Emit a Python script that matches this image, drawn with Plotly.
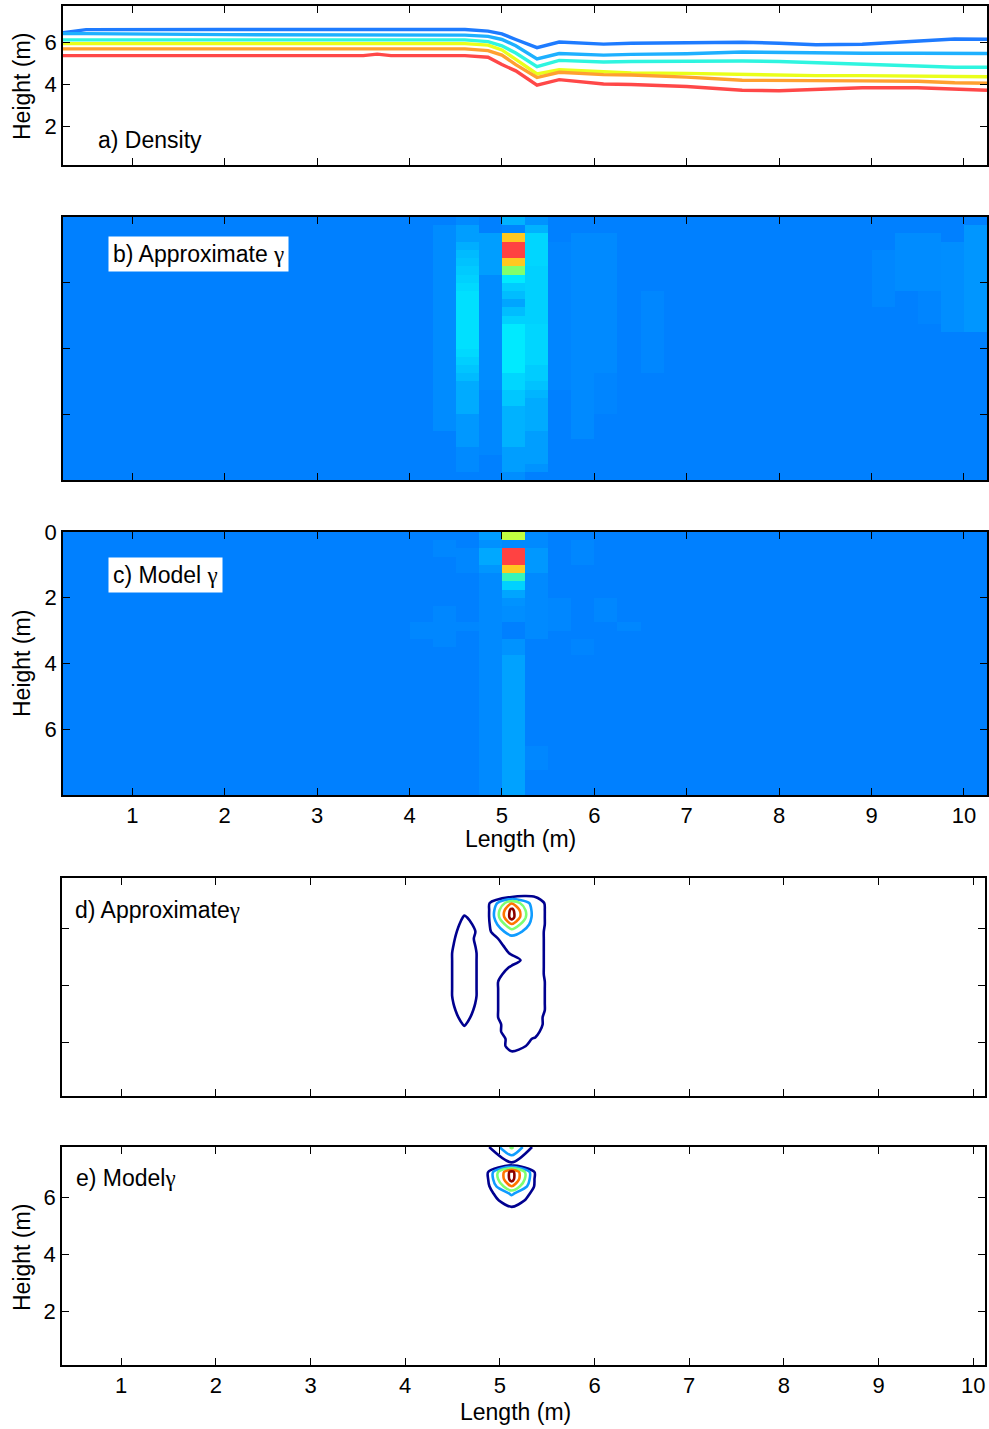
import plotly.graph_objects as go

# ---------------- data ----------------
# panel a: density isolines (height in m) sampled along length
dens_x = [0.25, 0.5, 2.0, 3.5, 3.65, 3.8, 4.6, 4.85, 5.0, 5.15, 5.38, 5.62,
          6.1, 6.4, 7.0, 7.6, 8.0, 8.4, 8.9, 9.5, 9.9, 10.25]
dens_blue = [6.47, 6.62, 6.63, 6.63, 6.63, 6.63, 6.63, 6.55, 6.42, 6.15, 5.76, 6.03,
             5.93, 5.97, 5.98, 6.02, 5.97, 5.90, 5.92, 6.08, 6.17, 6.16]
dens_lightblue = [6.43, 6.43, 6.38, 6.36, 6.36, 6.36, 6.36, 6.30, 6.15, 5.85, 5.22, 5.48,
                  5.40, 5.44, 5.47, 5.55, 5.53, 5.50, 5.49, 5.49, 5.48, 5.48]
dens_cyan = [6.13, 6.13, 6.13, 6.13, 6.13, 6.13, 6.13, 6.05, 5.85, 5.50, 4.85, 5.15,
             5.07, 5.10, 5.13, 5.12, 5.10, 5.05, 4.98, 4.88, 4.82, 4.82]
dens_yellow = [5.95, 5.95, 5.95, 5.95, 5.95, 5.95, 5.95, 5.88, 5.65, 5.20, 4.50, 4.70,
               4.60, 4.55, 4.53, 4.48, 4.45, 4.42, 4.42, 4.40, 4.38, 4.37]
dens_orange = [5.70, 5.70, 5.70, 5.70, 5.70, 5.70, 5.70, 5.62, 5.40, 4.95, 4.33, 4.58,
               4.47, 4.45, 4.35, 4.20, 4.18, 4.18, 4.17, 4.15, 4.08, 4.06]
dens_red = [5.38, 5.38, 5.38, 5.38, 5.45, 5.38, 5.38, 5.30, 4.95, 4.65, 3.97, 4.23,
            4.02, 4.00, 3.90, 3.72, 3.70, 3.78, 3.84, 3.84, 3.77, 3.72]
dens_series = [dens_blue, dens_lightblue, dens_cyan, dens_yellow, dens_orange, dens_red]
dens_colors = ["#1E7BFF", "#1EB0FF", "#2EF5E0", "#EAFF1A", "#FFA030", "#FF4848"]

# gamma grids: 40 columns of 0.25 m (length), 32 rows of 0.25 m (depth)
n_cols, n_rows = 40, 32
x_centers = [0.375 + 0.25 * i for i in range(n_cols)]
depth_centers = [0.125 + 0.25 * k for k in range(n_rows)]

# column index -> list of (first_row, last_row, value)
approx_gamma_cols = {
    16: [(1, 25, 0.025)],
    17: [(0, 0, 0.02), (1, 2, 0.06), (3, 3, 0.085), (4, 4, 0.105), (5, 5, 0.12),
         (6, 6, 0.135), (7, 7, 0.15), (8, 8, 0.165), (9, 15, 0.18), (16, 16, 0.165),
         (17, 17, 0.145), (18, 18, 0.125), (19, 19, 0.105), (20, 23, 0.08),
         (24, 27, 0.05), (28, 30, 0.02)],
    18: [(2, 6, 0.06), (7, 20, 0.025), (21, 28, 0.015)],
    19: [(0, 0, 0.09), (1, 1, 0.01), (2, 2, 0.62), (3, 3, 0.88), (4, 4, 0.90),
         (5, 5, 0.62), (6, 6, 0.38), (7, 7, 0.20), (8, 8, 0.14), (9, 9, 0.11),
         (10, 10, 0.07), (11, 11, 0.11), (12, 12, 0.15), (13, 18, 0.20),
         (19, 20, 0.16), (21, 22, 0.13), (23, 27, 0.09), (28, 30, 0.06), (31, 31, 0.03)],
    20: [(0, 0, 0.04), (1, 1, 0.09), (2, 5, 0.16), (6, 12, 0.15), (13, 17, 0.16),
         (18, 19, 0.14), (20, 20, 0.12), (21, 21, 0.095), (22, 25, 0.08),
         (26, 29, 0.06), (30, 30, 0.04)],
    21: [(3, 20, 0.01)],
    22: [(2, 26, 0.02)],
    23: [(2, 18, 0.02), (19, 23, 0.01)],
    25: [(9, 18, 0.015)],
    35: [(4, 10, 0.015)],
    36: [(2, 8, 0.025)],
    37: [(2, 8, 0.025), (9, 12, 0.01)],
    38: [(3, 13, 0.03)],
    39: [(1, 13, 0.045)],
}
model_gamma_cols = {
    15: [(11, 12, 0.015)],
    16: [(1, 2, 0.015), (9, 13, 0.015)],
    17: [(2, 4, 0.015), (11, 11, 0.015)],
    18: [(0, 0, 0.06), (1, 1, 0.035), (2, 3, 0.075), (4, 4, 0.045), (5, 31, 0.02)],
    19: [(0, 0, 0.45), (1, 1, 0.02), (2, 3, 0.88), (4, 4, 0.62), (5, 5, 0.28),
         (6, 6, 0.15), (7, 7, 0.07), (8, 8, 0.04), (9, 10, 0.03), (11, 12, 0.0),
         (13, 14, 0.04), (15, 31, 0.065)],
    20: [(0, 1, 0.02), (2, 4, 0.05), (5, 12, 0.02), (26, 28, 0.015)],
    21: [(8, 11, 0.015)],
    22: [(1, 3, 0.015), (13, 14, 0.01)],
    23: [(8, 10, 0.015)],
    24: [(11, 11, 0.015)],
}
approx_levels = [0.10, 0.28, 0.46, 0.64, 0.82]
model_levels = [0.08, 0.25, 0.42, 0.62, 0.80]
level_colors = ["#00008F", "#109CFF", "#7DFF72", "#FF7400", "#8B0000"]

x_ticks = list(range(1, 11))


def build_grid(cols):
    z = [[0.0] * n_cols for _ in range(n_rows)]
    for c, segs in cols.items():
        for r0, r1, v in segs:
            for r in range(r0, r1 + 1):
                z[r][c] = v
    return z


approx_z = build_grid(approx_gamma_cols)
model_z = build_grid(model_gamma_cols)

# heights for contour panels (surface row drawn at top of profile)
cont_heights = [7.5 - d for d in depth_centers]
cont_heights[0] = 7.75
cont_h_asc = cont_heights[::-1]

heat_scale = [[0.0, "#0080FF"], [0.05, "#0098FF"], [0.1, "#00B8FF"], [0.2, "#00EAFF"],
              [0.35, "#66FF80"], [0.5, "#EEFF20"], [0.62, "#FFC820"], [0.75, "#FF7030"],
              [0.85, "#FF4444"], [1.0, "#FF3A3A"]]

# ---------------- figure ----------------
W, H = 989, 1429
FONT = "Arial, Liberation Sans, sans-serif"
FS = 23
TFS = 22


def dx(a, b):
    return [a / W, b / W]


def dy(top, bottom):
    return [1 - bottom / H, 1 - top / H]


fig = go.Figure()

for ys, col in zip(dens_series, dens_colors):
    fig.add_trace(go.Scatter(x=dens_x, y=ys, mode="lines", line=dict(color=col, width=3.4),
                             xaxis="x", yaxis="y", showlegend=False, hoverinfo="skip"))

fig.add_trace(go.Heatmap(x=x_centers, y=depth_centers, z=approx_z, colorscale=heat_scale,
                         zmin=0, zmax=1, showscale=False, xaxis="x2", yaxis="y2"))
fig.add_trace(go.Heatmap(x=x_centers, y=depth_centers, z=model_z, colorscale=heat_scale,
                         zmin=0, zmax=1, showscale=False, xaxis="x3", yaxis="y3"))


def add_contours(z, levels, xa, ya):
    z_asc = z[::-1]
    for lev, col in zip(levels, level_colors):
        fig.add_trace(go.Contour(
            x=x_centers, y=cont_h_asc, z=z_asc,
            contours=dict(start=lev, end=lev, size=1, coloring="lines"),
            colorscale=[[0, col], [1, col]], showscale=False,
            line=dict(width=2.6, smoothing=0.8), xaxis=xa, yaxis=ya, hoverinfo="skip"))


add_contours(approx_z, approx_levels, "x4", "y4")
add_contours(model_z, model_levels, "x5", "y5")

axis_common = dict(showline=True, linecolor="black", linewidth=1.5, mirror="ticks",
                   ticks="inside", ticklen=7, tickcolor="black", tickwidth=1,
                   showgrid=False, zeroline=False, automargin=False,
                   tickfont=dict(family=FONT, size=TFS, color="black"))

layout = dict(
    template="none",
    width=W, height=H, autosize=False, margin=dict(l=0, r=0, t=0, b=0, pad=0),
    paper_bgcolor="white", plot_bgcolor="white", showlegend=False,
    font=dict(family=FONT, size=FS, color="black"),
)
# panel a
layout["xaxis"] = dict(axis_common, domain=dx(63, 987), range=[0.25, 10.25], tickvals=x_ticks,
                       showticklabels=False, anchor="y")
layout["yaxis"] = dict(axis_common, domain=dy(6, 165), range=[0.15, 7.75], tickvals=[2, 4, 6],
                       anchor="x")
# panel b
layout["xaxis2"] = dict(axis_common, domain=dx(63, 987), range=[0.25, 10.25], tickvals=x_ticks,
                        showticklabels=False, anchor="y2")
layout["yaxis2"] = dict(axis_common, domain=dy(217, 480), range=[8, 0], tickvals=[2, 4, 6],
                        showticklabels=False, anchor="x2")
# panel c
layout["xaxis3"] = dict(axis_common, domain=dx(63, 987), range=[0.25, 10.25], tickvals=x_ticks,
                        anchor="y3")
layout["yaxis3"] = dict(axis_common, domain=dy(532, 795), range=[8, 0], tickvals=[0, 2, 4, 6],
                        anchor="x3")
# panel d
layout["xaxis4"] = dict(axis_common, domain=dx(62, 985), range=[0.375, 10.125], tickvals=x_ticks,
                        showticklabels=False, anchor="y4")
layout["yaxis4"] = dict(axis_common, domain=dy(878, 1096), range=[0.125, 7.75], tickvals=[2, 4, 6],
                        showticklabels=False, anchor="x4")
# panel e
layout["xaxis5"] = dict(axis_common, domain=dx(62, 985), range=[0.375, 10.125], tickvals=x_ticks,
                        anchor="y5")
layout["yaxis5"] = dict(axis_common, domain=dy(1147, 1365), range=[0.125, 7.75], tickvals=[2, 4, 6],
                        anchor="x5")
fig.update_layout(**layout)

G = '<span style="font-family:Liberation Serif, DejaVu Serif, serif">γ</span>'


def ann(text, xp, yp, **kw):
    d = dict(text=text, xref="paper", yref="paper", x=xp / W, y=1 - yp / H,
             showarrow=False, font=dict(family=FONT, size=FS, color="black"))
    d.update(kw)
    fig.add_annotation(**d)


ann("a) Density", 96, 140, xanchor="left", yanchor="middle")
ann("b) Approximate " + G, 108, 254, xanchor="left", yanchor="middle", bgcolor="white", borderpad=4)
ann("c) Model " + G, 108, 575, xanchor="left", yanchor="middle", bgcolor="white", borderpad=4)
ann("d) Approximate" + G, 73, 910, xanchor="left", yanchor="middle")
ann("e) Model" + G, 74, 1178, xanchor="left", yanchor="middle")

ann("Height (m)", 22, 87, textangle=-90, xanchor="center", yanchor="middle")
ann("Height (m)", 22, 664, textangle=-90, xanchor="center", yanchor="middle")
ann("Height (m)", 22, 1258, textangle=-90, xanchor="center", yanchor="middle")
ann("Length (m)", 520, 839, xanchor="center", yanchor="middle")
ann("Length (m)", 515, 1412, xanchor="center", yanchor="middle")

fig.write_html("out.html", config={"responsive": False, "displayModeBar": False},
               post_script="document.body.style.margin='0px';document.body.style.overflow='hidden';")
